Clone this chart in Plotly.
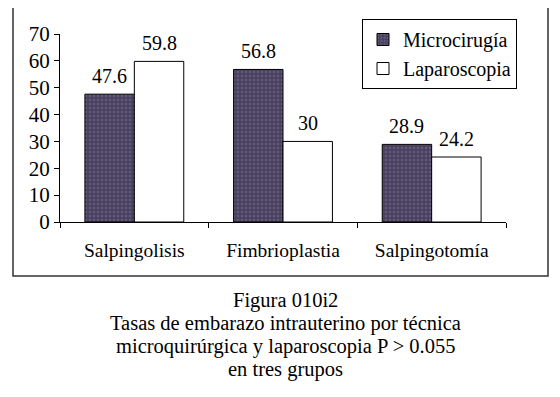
import plotly.graph_objects as go

categories = ["Salpingolisis", "Fimbrioplastia", "Salpingotomía"]
microcirugia = [47.6, 56.8, 28.9]
laparoscopia = [59.8, 30, 24.2]
series_names = ["Microcirugía", "Laparoscopia"]
y_ticks = [0, 10, 20, 30, 40, 50, 60, 70]
caption_lines = [
    "Figura 010i2",
    "Tasas de embarazo intrauterino por técnica",
    "microquirúrgica y laparoscopia P > 0.055",
    "en tres grupos",
]

FONT = "Liberation Serif"
DARK = "#4a4160"

# page offset (browser body margin)
OFF = 8
W, H = 560 - OFF, 397 - OFF
plot_left, plot_right, plot_top, plot_bottom = 60 - OFF, 506 - OFF, 34 - OFF, 222 - OFF
w = plot_right - plot_left
h = plot_bottom - plot_top


def px_x(x):
    return (x - OFF - plot_left) / w


def px_y(y):
    return (plot_bottom - (y - OFF)) / h


fig = go.Figure()
fig.add_trace(go.Bar(
    x=categories, y=microcirugia, name=series_names[0],
    marker=dict(color=DARK, line=dict(color="black", width=1),
                pattern=dict(shape=".", fgcolor="#7d7493", bgcolor=DARK, size=4, solidity=0.3)),
))
fig.add_trace(go.Bar(
    x=categories, y=laparoscopia, name=series_names[1],
    marker=dict(color="white", line=dict(color="black", width=1)),
))

# value labels
for vals, shift in ((microcirugia, -25), (laparoscopia, 25)):
    for c, v in zip(categories, vals):
        fig.add_annotation(x=c, y=v, text=f"{v:g}", showarrow=False,
                           xshift=shift, yshift=5, yanchor="bottom",
                           font=dict(family=FONT, size=20, color="black"))

# caption
for i, line in enumerate(caption_lines):
    py = 300 + i * 23
    fig.add_annotation(x=px_x(285), xref="paper",
                       y=px_y(py), yref="paper", yanchor="middle",
                       text=line, showarrow=False,
                       font=dict(family=FONT, size=20.5, color="black"))

# outer frame
fig.add_shape(type="rect", xref="paper", yref="paper",
              x0=px_x(13), x1=px_x(548), y0=px_y(276), y1=px_y(7),
              line=dict(color="#333333", width=1.5))

fig.update_layout(
    width=W, height=H,
    margin=dict(l=plot_left, r=W - plot_right, t=plot_top, b=H - plot_bottom,
                autoexpand=False),
    paper_bgcolor="white", plot_bgcolor="white",
    barmode="group", bargap=0.335, bargroupgap=0,
    font=dict(family=FONT, size=18, color="black"),
    showlegend=True,
    legend=dict(x=px_x(362), y=px_y(19),
                xanchor="left", yanchor="top",
                bordercolor="black", borderwidth=1, bgcolor="white",
                font=dict(family=FONT, size=20), tracegroupgap=0,
                itemwidth=30),
)
fig.update_xaxes(showline=True, linecolor="black", linewidth=1,
                 ticks="outside", tickson="boundaries", ticklen=5, tickcolor="black",
                 showgrid=False, ticklabelstandoff=11, automargin=False,
                 tickfont=dict(family=FONT, size=19.5))
fig.update_yaxes(range=[0, 70], tickvals=y_ticks, showline=True, linecolor="black",
                 linewidth=1, ticks="outside", ticklen=5, tickcolor="black",
                 showgrid=False, zeroline=False, automargin=False,
                 tickfont=dict(family=FONT, size=21))

fig.write_html("out.html")
